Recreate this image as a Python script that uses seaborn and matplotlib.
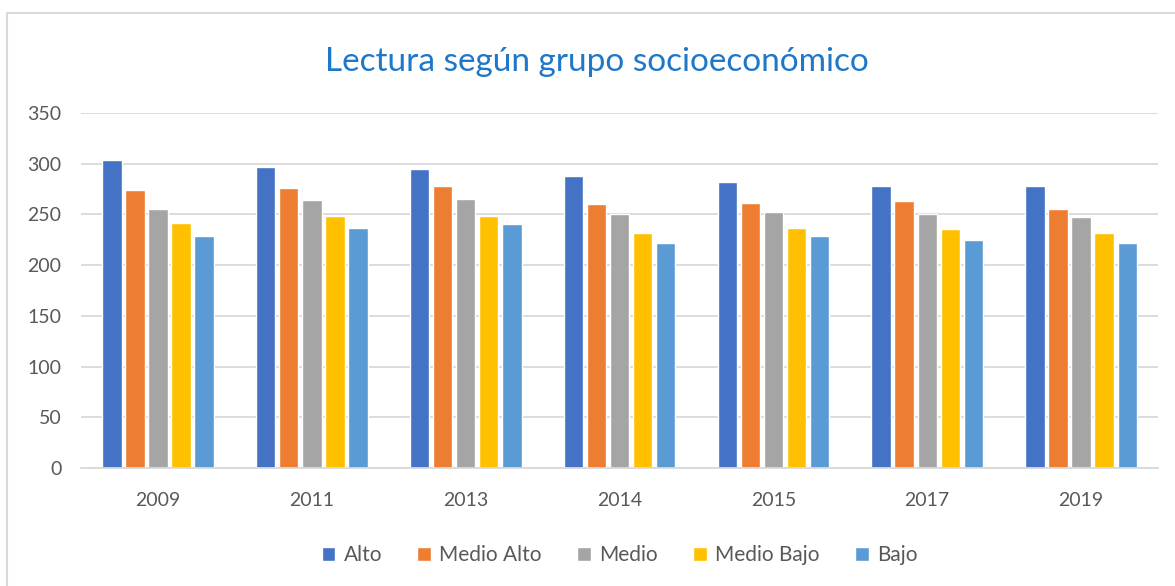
import pandas as pd
import seaborn as sns
import matplotlib.pyplot as plt
from matplotlib.patches import Rectangle

# data
years = ["2009", "2011", "2013", "2014", "2015", "2017", "2019"]
groups = ["Alto", "Medio Alto", "Medio", "Medio Bajo", "Bajo"]
alto = [304, 297, 295, 288, 282, 278, 278]
medio_alto = [274, 276, 278, 260, 261, 263, 255]
medio = [255, 264, 265, 250, 252, 250, 247]
medio_bajo = [242, 248, 248, 232, 237, 236, 232]
bajo = [229, 237, 241, 222, 229, 225, 222]
colors = ["#4472C4", "#ED7D31", "#A5A5A5", "#FFC000", "#5B9BD5"]

df = pd.DataFrame({"Año": years, "Alto": alto, "Medio Alto": medio_alto,
                   "Medio": medio, "Medio Bajo": medio_bajo, "Bajo": bajo})
long = df.melt(id_vars="Año", var_name="Grupo", value_name="Puntaje")

sns.set_style("white")
plt.rcParams["font.family"] = ["Lato", "DejaVu Sans"]

fig = plt.figure(figsize=(11.75, 5.86), dpi=100)
ax = fig.add_axes([0.069, 0.2014, 0.9165, 0.6058])

sns.barplot(data=long, x="Año", y="Puntaje", hue="Grupo", hue_order=groups,
            palette=colors, width=0.75, gap=0.16, saturation=1, ax=ax,
            legend=True, errorbar=None)

ax.set_ylim(0, 350)
ax.set_xlim(-0.5, 6.5)
ax.set_yticks(range(0, 351, 50))
ax.yaxis.grid(True, color="#D9D9D9", linewidth=1.3)
ax.set_axisbelow(True)
for s in ["top", "right", "left"]:
    ax.spines[s].set_visible(False)
ax.spines["bottom"].set_color("#D9D9D9")
ax.spines["bottom"].set_linewidth(1.3)
ax.tick_params(axis="both", length=0, labelsize=14, labelcolor="#595959")
ax.tick_params(axis="x", pad=17)
ax.tick_params(axis="y", pad=14)
ax.set_xlabel("")
ax.set_ylabel("")

ax.legend(loc="upper center", bbox_to_anchor=(0.5, -0.165), ncol=5, frameon=False,
          fontsize=15, labelcolor="#595959", handlelength=0.65, handleheight=0.65,
          handletextpad=0.4, columnspacing=1.7)

fig.text(0.508, 0.895, "Lectura según grupo socioeconómico", ha="center", va="center",
         fontsize=24, color="#1F77C8")

fig.patches.append(Rectangle((0.006, -0.01), 1.0, 0.988, transform=fig.transFigure,
                             fill=False, edgecolor="#D9D9D9", linewidth=1.5))

fig.savefig("out.png", dpi=100, facecolor="white")
